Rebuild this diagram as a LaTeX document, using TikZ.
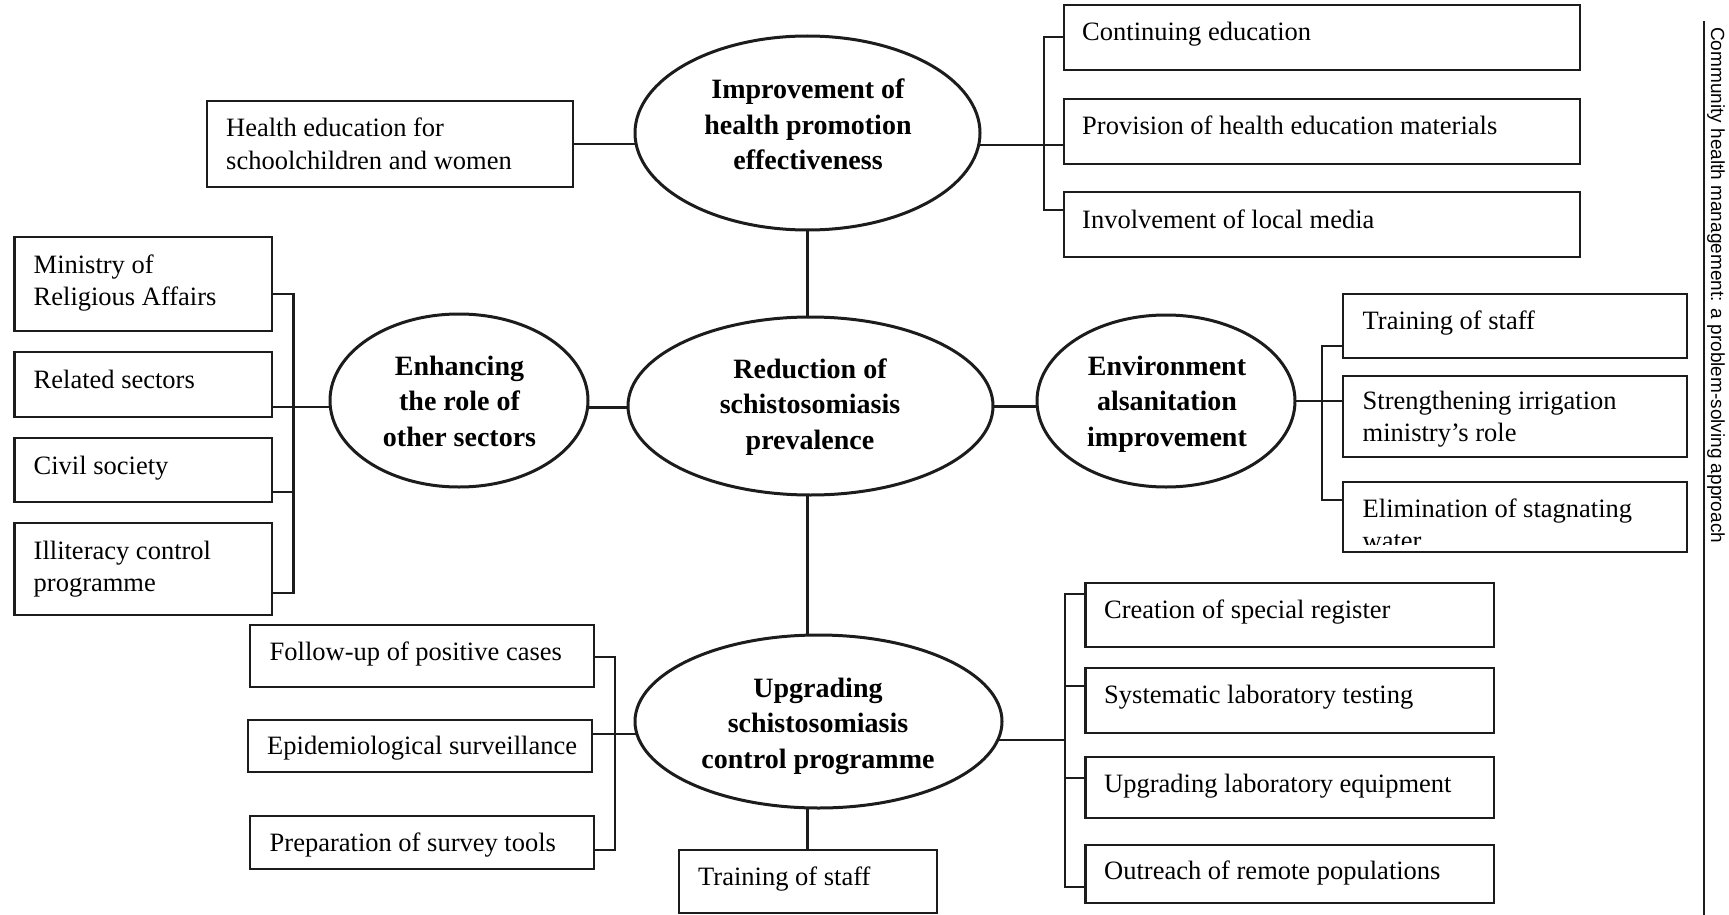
\documentclass[tikz,border=0pt]{standalone}
\usepackage{fontspec}
\setmainfont{Liberation Serif}
\newfontfamily\capfont{Liberation Sans}
\usetikzlibrary{shapes.geometric}
\definecolor{lc}{HTML}{1C1C1C}
\newcommand\mlL[1]{\begin{tabular}[t]{@{}l@{}}#1\end{tabular}}
\newcommand\mlC[1]{\begin{tabular}[t]{@{}c@{}}#1\end{tabular}}
\begin{document}
\begin{tikzpicture}[x=1pt,y=-1pt,
  bx/.style={draw=lc, line width=2.3pt, rectangle, outer sep=0pt, inner sep=0pt},
  ell/.style={draw=lc, line width=3pt, ellipse, outer sep=0pt, inner sep=0pt},
  btxt/.style={anchor=base west, inner sep=0pt, font=\fontsize{26.5}{32.5}\selectfont},
  etxt/.style={anchor=base, inner sep=0pt, font=\fontsize{28}{35.5}\selectfont\bfseries},
  conn/.style={draw=lc, line width=2.2pt},
  link/.style={draw=lc, line width=3pt},
  captxt/.style={rotate=-90, anchor=base west, inner sep=0pt, font=\capfont\fontsize{19}{22}\selectfont}
]
\useasboundingbox (0,0) rectangle (1729,915);

% ---------- ellipses ----------
\node[ell, minimum width=345, minimum height=194] (impr) at (807.5,133) {};
\node[etxt] (imprt) at (808,99) {\mlC{Improvement of\\health promotion\\effectiveness}};
\node[ell, minimum width=365, minimum height=178] (central) at (810.5,406) {};
\node[etxt] (centralt) at (810,378) {\mlC{Reduction of\\schistosomiasis\\prevalence}};
\node[ell, minimum width=258, minimum height=173] (enh) at (459,400.5) {};
\node[etxt] (enht) at (459.5,375) {\mlC{Enhancing\\the role of\\other sectors}};
\node[ell, minimum width=258, minimum height=172] (env) at (1166,401) {};
\node[etxt] (envt) at (1167,375) {\mlC{Environment\\alsanitation\\improvement}};
\node[ell, minimum width=367, minimum height=173] (bottom) at (818.5,721.5) {};
\node[etxt] (bottomt) at (818,697) {\mlC{Upgrading\\schistosomiasis\\control programme}};

% ---------- boxes ----------
\node[bx, minimum width=366, minimum height=86] (hed) at (390,144) {};
\node[btxt] (hedt) at ([shift={(19,36)}]hed.north west) {\mlL{Health education for\\schoolchildren and women}};

\node[bx, minimum width=516, minimum height=65] (cont) at (1322,37.5) {};
\node[btxt] (contt) at ([shift={(18,36)}]cont.north west) {Continuing education};
\node[bx, minimum width=516, minimum height=65] (prov) at (1322,131.5) {};
\node[btxt] (provt) at ([shift={(18,36)}]prov.north west) {Provision of health education materials};
\node[bx, minimum width=516, minimum height=65] (inv) at (1322,224.5) {};
\node[btxt] (invt) at ([shift={(18,36)}]inv.north west) {Involvement of local media};

\node[bx, minimum width=257.5, minimum height=94] (min) at (143.25,284) {};
\node[btxt] (mint) at ([shift={(19,36)}]min.north west) {\mlL{Ministry of\\Religious Affairs}};
\node[bx, minimum width=257.5, minimum height=65] (rel) at (143.25,384.5) {};
\node[btxt] (relt) at ([shift={(19,36)}]rel.north west) {Related sectors};
\node[bx, minimum width=257.5, minimum height=64] (civ) at (143.25,470) {};
\node[btxt] (civt) at ([shift={(19,36)}]civ.north west) {Civil society};
\node[bx, minimum width=257.5, minimum height=92] (ill) at (143.25,569) {};
\node[btxt] (illt) at ([shift={(19,36)}]ill.north west) {\mlL{Illiteracy control\\programme}};

\node[bx, minimum width=344, minimum height=64] (tr1) at (1515,326) {};
\node[btxt] (tr1t) at ([shift={(19.5,35)}]tr1.north west) {Training of staff};
\node[bx, minimum width=344, minimum height=81] (str) at (1515,416.5) {};
\node[btxt] (strt) at ([shift={(19.5,33)}]str.north west) {\mlL{Strengthening irrigation\\ministry’s role}};
\node[bx, minimum width=344, minimum height=70] (eli) at (1515,517) {};
\begin{scope}
  \clip (eli.north west) rectangle ([yshift=8pt]eli.south east);
  \node[btxt] (elit) at ([shift={(19.5,35)}]eli.north west) {\mlL{Elimination of stagnating\\water}};
\end{scope}

\node[bx, minimum width=344, minimum height=62] (fol) at (422,656) {};
\node[btxt] (folt) at ([shift={(19.5,35)}]fol.north west) {Follow-up of positive cases};
\node[bx, minimum width=344, minimum height=52] (epi) at (420,746) {};
\node[btxt] (epit) at ([shift={(19,34)}]epi.north west) {Epidemiological surveillance};
\node[bx, minimum width=344, minimum height=53] (pre) at (422,842.5) {};
\node[btxt] (pret) at ([shift={(19.5,35)}]pre.north west) {Preparation of survey tools};
\node[bx, minimum width=258, minimum height=63] (tr2) at (808,881.5) {};
\node[btxt] (tr2t) at ([shift={(19,35)}]tr2.north west) {Training of staff};

\node[bx, minimum width=408.5, minimum height=64] (cre) at (1289.75,615) {};
\node[btxt] (cret) at ([shift={(18.5,35)}]cre.north west) {Creation of special register};
\node[bx, minimum width=408.5, minimum height=65] (sys) at (1289.75,700.5) {};
\node[btxt] (syst) at ([shift={(18.5,35)}]sys.north west) {Systematic laboratory testing};
\node[bx, minimum width=408.5, minimum height=61] (upg) at (1289.75,787.5) {};
\node[btxt] (upgt) at ([shift={(18.5,35)}]upg.north west) {Upgrading laboratory equipment};
\node[bx, minimum width=408.5, minimum height=58] (out) at (1289.75,874) {};
\node[btxt] (outt) at ([shift={(18.5,34)}]out.north west) {Outreach of remote populations};

% ---------- bus coordinates ----------
\coordinate (b1t) at (1044,37);
\coordinate (b1b) at (1044,210);
\coordinate (b2t) at (293.5,294);
\coordinate (b2c) at (293.5,492);
\coordinate (b2b) at (293.5,593);
\coordinate (b3t) at (1322,346);
\coordinate (b3b) at (1322,500);
\coordinate (b4t) at (615,657);
\coordinate (b4b) at (615,850);
\coordinate (b5t) at (1065,594);
\coordinate (b5a) at (1065,686);
\coordinate (b5c) at (1065,778);
\coordinate (b5b) at (1065,887);

% ---------- main links between ellipses ----------
\draw[link] (impr.south) -- (impr.south |- central.north);
\draw[link] (impr.south |- central.south) -- (impr.south |- bottom.north);
\draw[link] (impr.south |- bottom.south) -- (impr.south |- tr2.north);
\draw[link] (enh.-3.3) -- (enh.-3.3 -| central.west);
\draw[link] (central.east) -- (central.east -| env.west);

% ---------- top group ----------
\draw[conn] (hed.east) -- (hed.east -| impr.west);
\draw[conn] (impr.-4) -- (impr.-4 -| prov.west);
\draw[conn] (b1t -| cont.west) -- (b1t) -- (b1b) -- (b1b -| inv.west);

% ---------- left group ----------
\draw[conn] (rel.east |- enh.183.3) -- (enh.183.3);
\draw[conn] (b2t -| min.east) -- (b2t) -- (b2b) -- (b2b -| ill.east);
\draw[conn] (b2c -| civ.east) -- (b2c);

% ---------- right group ----------
\draw[conn] (env.east) -- (env.east -| str.west);
\draw[conn] (b3t -| tr1.west) -- (b3t) -- (b3b) -- (b3b -| eli.west);

% ---------- bottom-left group ----------
\draw[conn] (epi.east |- bottom.184.3) -- (bottom.184.3);
\draw[conn] (b4t -| fol.east) -- (b4t) -- (b4b) -- (b4b -| pre.east);

% ---------- bottom-right group ----------
\draw[conn] (bottom.-6.9) -- (bottom.-6.9 -| b5t);
\draw[conn] (b5t -| cre.west) -- (b5t) -- (b5b) -- (b5b -| out.west);
\draw[conn] (b5a) -- (b5a -| sys.west);
\draw[conn] (b5c) -- (b5c -| upg.west);

% ---------- side rule and running head ----------
\coordinate (rt) at (1704,21);
\coordinate (rb) at (1704,915);
\draw[conn, line width=2pt] (rt) -- (rb);
\node[captxt] (cap) at (1711,27) {Community health management: a problem-solving approach};
\end{tikzpicture}
\end{document}
